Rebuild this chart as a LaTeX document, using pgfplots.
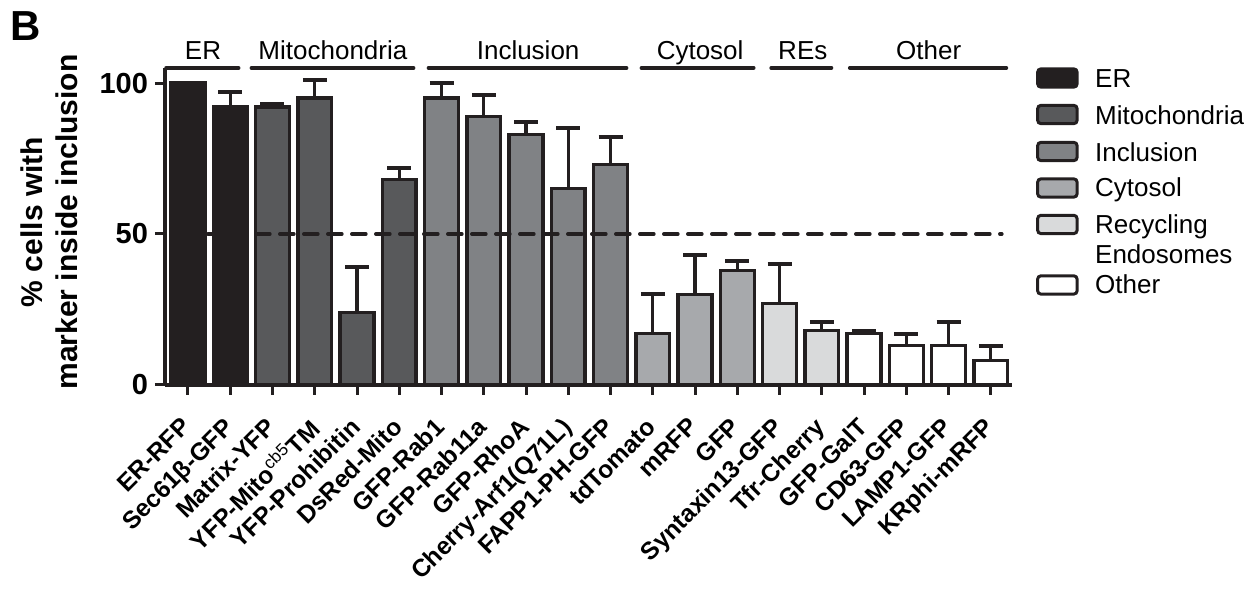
\documentclass[border=0pt]{standalone}
\usepackage{pgfplots}
\pgfplotsset{compat=1.18}
\usepackage{fontspec}
\setmainfont{Liberation Sans}
\definecolor{edge}{HTML}{231F20}
\definecolor{cER}{HTML}{231F20}
\definecolor{cMito}{HTML}{58595B}
\definecolor{cIncl}{HTML}{808285}
\definecolor{cCyt}{HTML}{A7A9AC}
\definecolor{cRE}{HTML}{D9DADB}
\begin{document}
\begin{tikzpicture}
\begin{axis}[
  scale only axis, width=423.5pt, height=158.5pt,
  xmin=-0.545, xmax=19.5, ymin=0, ymax=105,
  axis x line*=bottom, axis y line*=left,
  axis line style={line width=1.6pt, color=edge, -},
  tick align=outside, major tick length=5pt,
  tick style={line width=1.5pt, color=edge},
  ytick={0,50,100}, xtick={0,...,19},
  xticklabels={ER-RFP, Sec61β-GFP, Matrix-YFP, YFP-Mito\textsuperscript{\mdseries cb5}TM, YFP-Prohibitin, DsRed-Mito, GFP-Rab1, GFP-Rab11a, GFP-RhoA, Cherry-Arf1(Q71L), FAPP1-PH-GFP, tdTomato, mRFP, GFP, Syntaxin13-GFP, Tfr-Cherry, GFP-GalT, CD63-GFP, LAMP1-GFP, KRphi-mRFP},
  x tick label style={xshift=-4pt, yshift=-9pt, rotate=45, anchor=north east, font=\bfseries\fontsize{12.3}{14}\selectfont, inner sep=1pt},
  y tick label style={font=\bfseries\fontsize{14.5}{16}\selectfont},
  /pgf/number format/assume math mode=true,
  ylabel={\% cells with\\marker inside inclusion},
  ylabel style={font=\bfseries\fontsize{15}{17.5}\selectfont, align=center, at={(axis description cs:-0.1027,0.514)}, anchor=south, inner sep=0pt},
  ybar, bar width=0.8, bar shift=0pt,
  clip=false,
  error bars/y dir=plus, error bars/y explicit,
  error bars/error bar style={line width=1.6pt, color=edge},
  error bars/error mark options={line width=2pt, mark size=6pt, color=edge, rotate=90},
]
\addplot[fill=cER, draw=edge, line width=1.7pt] coordinates {(0,100) +- (0,0) (1,92) +- (0,5)};
\addplot[fill=cMito, draw=edge, line width=1.7pt] coordinates {(2,92) +- (0,1) (3,95) +- (0,6) (4,24) +- (0,15) (5,68) +- (0,4)};
\addplot[fill=cIncl, draw=edge, line width=1.7pt] coordinates {(6,95) +- (0,5) (7,89) +- (0,7) (8,83) +- (0,4) (9,65) +- (0,20) (10,73) +- (0,9)};
\addplot[fill=cCyt, draw=edge, line width=1.7pt] coordinates {(11,17) +- (0,13) (12,30) +- (0,13) (13,38) +- (0,3)};
\addplot[fill=cRE, draw=edge, line width=1.7pt] coordinates {(14,27) +- (0,13) (15,18) +- (0,3)};
\addplot[fill=white, draw=edge, line width=1.7pt] coordinates {(16,17) +- (0,1) (17,13) +- (0,4) (18,13) +- (0,8) (19,8) +- (0,5)};
% threshold
\draw[edge, line width=1.8pt, line cap=round, dash pattern=on 7pt off 5pt] (axis cs:0.47,50) -- (axis cs:19.26,50);
% group lines
\draw[edge, line width=1.75pt, line cap=round] (axis cs:-0.52,105) -- (axis cs:1.20,105);
\draw[edge, line width=1.75pt, line cap=round] (axis cs:1.50,105) -- (axis cs:5.34,105);
\draw[edge, line width=1.75pt, line cap=round] (axis cs:5.69,105) -- (axis cs:10.38,105);
\draw[edge, line width=1.75pt, line cap=round] (axis cs:10.73,105) -- (axis cs:13.39,105);
\draw[edge, line width=1.75pt, line cap=round] (axis cs:13.80,105) -- (axis cs:15.23,105);
\draw[edge, line width=1.75pt, line cap=round] (axis cs:15.66,105) -- (axis cs:19.37,105);
\path[font=\fontsize{13}{15}\selectfont, inner sep=0pt]
  (axis cs:0.355,107.9) node[anchor=base] {ER}
  (axis cs:3.43,107.9) node[anchor=base] {Mitochondria}
  (axis cs:8.05,107.9) node[anchor=base] {Inclusion}
  (axis cs:12.12,107.9) node[anchor=base] {Cytosol}
  (axis cs:14.55,107.9) node[anchor=base] {REs}
  (axis cs:17.53,107.9) node[anchor=base] {Other};
% legend
\draw[edge, fill=cER, line width=1.5pt, rounded corners=1.5pt] (axis cs:20.11,98.66) rectangle (axis cs:21.04,104.66);
\draw[edge, fill=cMito, line width=1.5pt, rounded corners=1.5pt] (axis cs:20.11,86.57) rectangle (axis cs:21.04,92.57);
\draw[edge, fill=cIncl, line width=1.5pt, rounded corners=1.5pt] (axis cs:20.11,74.32) rectangle (axis cs:21.04,80.32);
\draw[edge, fill=cCyt, line width=1.5pt, rounded corners=1.5pt] (axis cs:20.11,62.23) rectangle (axis cs:21.04,68.23);
\draw[edge, fill=cRE, line width=1.5pt, rounded corners=1.5pt] (axis cs:20.11,50.15) rectangle (axis cs:21.04,56.15);
\draw[edge, fill=white, line width=1.5pt, rounded corners=1.5pt] (axis cs:20.11,30.11) rectangle (axis cs:21.04,36.11);
\path[font=\fontsize{13}{15}\selectfont, inner sep=0pt]
  (axis cs:21.46,98.58) node[anchor=base west] {ER}
  (axis cs:21.46,86.42) node[anchor=base west] {Mitochondria}
  (axis cs:21.46,74.17) node[anchor=base west] {Inclusion}
  (axis cs:21.46,62.25) node[anchor=base west] {Cytosol}
  (axis cs:21.46,50.0) node[anchor=base west] {Recycling}
  (axis cs:21.46,40.07) node[anchor=base west] {Endosomes}
  (axis cs:21.46,30.13) node[anchor=base west] {Other};
% panel letter
\node[anchor=base west, inner sep=0pt, font=\bfseries\fontsize{21}{24}\selectfont] at (axis cs:-4.21,114.2) {B};
% page frame
\path (axis cs:-4.449,127.5) rectangle (axis cs:25.11,-68.5);
\end{axis}
\end{tikzpicture}
\end{document}
